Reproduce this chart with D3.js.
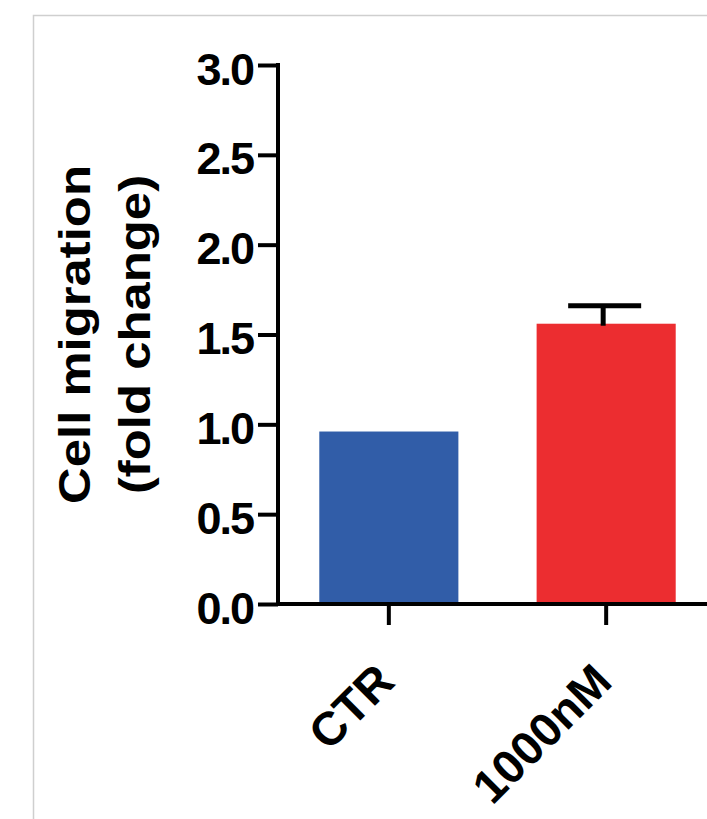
<!DOCTYPE html>
<html>
<head>
<meta charset="utf-8">
<script src="https://cdn.jsdelivr.net/npm/d3@7"></script>
<style>
  body { margin: 0; background: #fff; }
  text { font-family: "Liberation Sans", Arial, sans-serif; font-weight: bold; }
</style>
</head>
<body>
<div id="chart"></div>
<script>
(function () {
    var width = 707,
        height = 819;

    // data
    var groups = ["CTR", "1000nM"];
    var means = [0.96, 1.56];
    var sems = [0, 0.10];
    var barColors = ["#315DA8", "#EC2D30"];
    var yTicks = [0, 0.5, 1.0, 1.5, 2.0, 2.5, 3.0];

    var svg = d3.select("#chart")
        .append("svg")
        .attr("width", width)
        .attr("height", height)

    // frame round the figure
    svg.append("rect")
        .attr("x", 33.5)
        .attr("y", 15.5)
        .attr("width", width)
        .attr("height", height)
        .attr("fill", "none")
        .attr("stroke", "#cfcfcf")
        .attr("stroke-width", 1.5)

    var x0 = 278, y0 = 604, yTop = 65;

    var y = d3.scaleLinear().domain([0, 3]).range([y0, yTop])

    var x = d3.scaleBand()
        .domain(groups)
        .range([x0, 717])
        .paddingInner(0.36)
        .paddingOuter(0.19)

    var data = groups.map(function (g, i) {
        return { name: g, mean: means[i], sem: sems[i], color: barColors[i] }
    })

    // bars
    svg.selectAll(".bar")
        .data(data)
        .enter().append("rect")
        .attr("class", "bar")
        .attr("x", function (d) { return x(d.name) })
        .attr("width", x.bandwidth())
        .attr("y", function (d) { return y(d.mean) })
        .attr("height", function (d) { return y0 - y(d.mean) })
        .attr("fill", function (d) { return d.color })

    // error bars (upper only)
    var err = svg.selectAll(".err")
        .data(data.filter(function (d) { return d.sem > 0 }))
        .enter().append("g")
        .attr("class", "err")

    err.append("line")
        .attr("x1", function (d) { return x(d.name) + x.bandwidth() / 2 - 3 })
        .attr("x2", function (d) { return x(d.name) + x.bandwidth() / 2 - 3 })
        .attr("y1", function (d) { return y(d.mean) + 2 })
        .attr("y2", function (d) { return y(d.mean + d.sem) })
        .attr("stroke", "#000")
        .attr("stroke-width", 5)

    err.append("line")
        .attr("x1", function (d) { return x(d.name) + x.bandwidth() / 2 - 38 })
        .attr("x2", function (d) { return x(d.name) + x.bandwidth() / 2 + 35 })
        .attr("y1", function (d) { return y(d.mean + d.sem) })
        .attr("y2", function (d) { return y(d.mean + d.sem) })
        .attr("stroke", "#000")
        .attr("stroke-width", 5)

    // y axis
    var yAxis = svg.append("g")
        .attr("transform", "translate(" + x0 + ",0)")
        .call(d3.axisLeft(y)
            .tickValues(yTicks)
            .tickFormat(d3.format(".1f"))
            .tickSize(20)
            .tickPadding(5)
            .tickSizeOuter(0))

    yAxis.select(".domain").remove()
    yAxis.selectAll(".tick line")
        .attr("stroke", "#000")
        .attr("stroke-width", 4)
    yAxis.selectAll(".tick text")
        .attr("fill", "#000")
        .style("font-size", "45px")
        .style("letter-spacing", "-2px")
        .attr("dy", "19px")

    svg.append("line")
        .attr("x1", x0).attr("x2", x0)
        .attr("y1", yTop - 2).attr("y2", y0 + 2)
        .attr("stroke", "#000")
        .attr("stroke-width", 4)

    // x axis
    var xAxis = svg.append("g")
        .attr("transform", "translate(0," + y0 + ")")
        .call(d3.axisBottom(x).tickSize(21).tickSizeOuter(0))

    xAxis.select(".domain").remove()
    xAxis.selectAll(".tick line")
        .attr("stroke", "#000")
        .attr("stroke-width", 4)
    xAxis.selectAll(".tick text")
        .attr("fill", "#000")
        .style("font-size", "47px")
        .attr("text-anchor", "end")
        .attr("y", 0)
        .attr("dy", 0)
        .attr("transform", "translate(8,80) rotate(-45)")

    svg.append("line")
        .attr("x1", x0 - 2).attr("x2", width)
        .attr("y1", y0).attr("y2", y0)
        .attr("stroke", "#000")
        .attr("stroke-width", 4)

    // y title, a little stretched along its length like the source
    var cy = (y0 + yTop) / 2
    var title = svg.append("text")
        .attr("transform", "translate(90," + cy + ") rotate(-90) scale(1.13,1)")
        .attr("text-anchor", "middle")
        .style("font-size", "45px")
        .attr("fill", "#000")
    title.append("tspan").attr("x", 0).attr("y", 0).text("Cell migration")
    title.append("tspan").attr("x", 0).attr("y", 60).text("(fold change)")
})();
</script>
</body>
</html>
